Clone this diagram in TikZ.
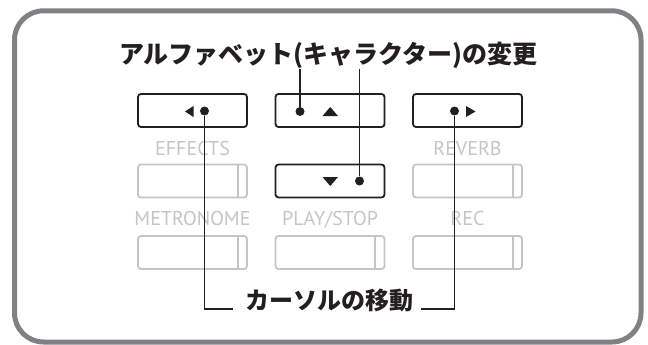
\documentclass[tikz,border=0pt]{standalone}
\usepackage{fontspec}
\newfontfamily\jp{Noto Sans CJK JP}
\newfontfamily\lab{PT Sans}
\definecolor{ink}{HTML}{231F20}
\definecolor{framegray}{HTML}{808184}
\definecolor{faint}{HTML}{C4C5C6}
\begin{document}
\begin{tikzpicture}[x=1pt,y=-1pt,
  btn/.style={draw=ink, line width=1.8pt, rounded corners=3pt, minimum width=109pt, minimum height=33pt, inner sep=0pt},
  gbtn/.style={draw=faint, line width=1.8pt, rounded corners=3pt, minimum width=109pt, minimum height=33pt, inner sep=0pt},
  lbl/.style={font=\lab\fontsize{20}{20}\selectfont, text=faint, anchor=base, inner sep=0pt},
  dotnode/.style={circle, fill=ink, minimum size=9pt, inner sep=0pt},
  conn/.style={draw=ink, line width=1.5pt},
  jptext/.style={font=\jp\bfseries\fontsize{24}{24}\selectfont, text=ink, anchor=base, inner sep=0pt}
]
\useasboundingbox (0,0) rectangle (648,345);
% outer frame
\draw[framegray, line width=5pt, rounded corners=29pt] (14.5,10.8) rectangle (641,342);

% title
\node[jptext, font=\jp\bfseries\fontsize{25}{25}\selectfont] (title) at (328.5,63.5) {アルファベット(キャラクター)の変更};

% top row buttons
\node[btn] (bL) at (192.5,110.5) {};
\node[btn] (bU) at (330,110.5) {};
\node[btn] (bR) at (467.5,110.5) {};
% middle row
\node[gbtn] (gE) at (192.5,181) {};
\node[btn] (bD) at (330,181) {};
\node[gbtn] (gRv) at (467.5,181) {};
% bottom row
\node[gbtn] (gM) at (192.5,252.5) {};
\node[gbtn] (gP) at (330,252.5) {};
\node[gbtn] (gRc) at (467.5,252.5) {};

\foreach \g in {gE,gRv,gM,gP,gRc}{
  \draw[faint, line width=2pt] ([xshift=-10pt]\g.north east) -- ([xshift=-10pt]\g.south east);
}

% labels
\node[lbl] (lE) at (192.5,155) {EFFECTS};
\node[lbl] (lRv) at (467.5,155) {REVERB};
\node[lbl] (lM) at (192.5,225.5) {METRONOME};
\node[lbl] (lP) at (330,225.5) {PLAY/STOP};
\node[lbl] (lRc) at (467.5,225.5) {REC};

% triangles
\fill[ink] (185,111.5) -- (193.5,106) -- (193.5,117) -- cycle;
\fill[ink] (322.5,116) -- (338,116) -- (330.25,107) -- cycle;
\fill[ink] (322.5,177) -- (338,177) -- (330.25,186) -- cycle;
\fill[ink] (475.5,111.5) -- (466,106) -- (466,117) -- cycle;

% dots
\node[dotnode] (dL) at (204.5,111) {};
\node[dotnode] (dU) at (300,111.5) {};
\node[dotnode] (dD) at (359.5,181) {};
\node[dotnode] (dR) at (454.5,111) {};

% bottom text
\node[jptext] (cursor) at (329,309) {カーソルの移動};

% connector end points
\coordinate (tU) at (300,69);
\coordinate (tD) at (359.5,69);
\coordinate (cL) at (233,309);
\coordinate (cR) at (421,309);

\draw[conn] (tU) -- (dU);
\draw[conn] (tD) -- (dD);
\draw[conn] (dL) |- (cL);
\draw[conn] (dR) |- (cR);
\end{tikzpicture}
\end{document}
